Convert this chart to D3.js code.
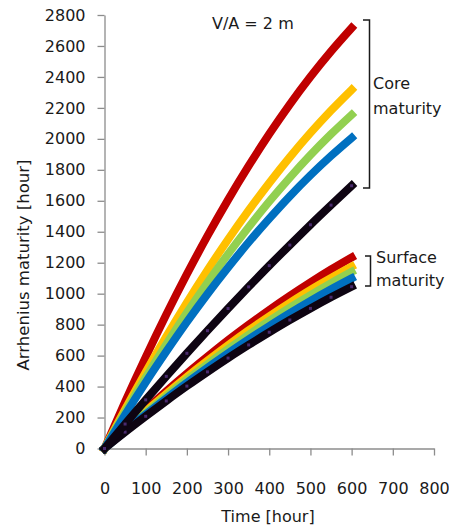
<!DOCTYPE html>
<html><head><meta charset="utf-8">
<script src="https://cdn.jsdelivr.net/npm/d3@7"></script>
<style>body{margin:0;background:#fff}svg{display:block}text{font-family:"DejaVu Sans",sans-serif;fill:#1a1a1a}</style>
</head><body>
<svg id="c" width="449" height="526"></svg>
<script>
const time = [0,50,100,150,200,250,300,350,400,450,500,550,600];
const coreRed    = [0,302,590,865,1126,1373,1606,1825,2031,2223,2401,2565,2716];
const coreOrange = [0,252,493,723,943,1152,1350,1538,1715,1882,2038,2183,2317];
const coreGreen  = [0,234,458,672,877,1071,1256,1430,1595,1750,1895,2030,2155];
const coreBlue   = [0,218,427,626,817,998,1169,1332,1485,1630,1765,1890,2006];
const coreBlack  = [0,158,314,466,615,761,904,1044,1181,1314,1445,1572,1697];
const surfRed    = [0,128,251,370,484,593,699,799,895,986,1073,1156,1234];
const surfOrange = [0,122,240,354,463,567,667,763,854,941,1024,1101,1175];
const surfGreen  = [0,117,230,339,444,545,642,735,824,910,991,1068,1141];
const surfBlue   = [0,112,220,324,425,522,615,705,791,874,953,1028,1099];
const surfBlack  = [0,106,208,307,403,495,584,669,751,830,905,977,1045];
const xTicks = [0,100,200,300,400,500,600,700,800];
const yTicks = [0,200,400,600,800,1000,1200,1400,1600,1800,2000,2200,2400,2600,2800];

const svg = d3.select("#c");
const x = d3.scaleLinear().domain([0,800]).range([104.5,434]);
const y = d3.scaleLinear().domain([0,2800]).range([448.5,15]);
const axisCol = "#8c8c8c";

const gx = svg.append("g").attr("transform","translate(0,448.5)")
  .call(d3.axisBottom(x).tickValues(xTicks).tickFormat(d3.format("d")).tickSize(7).tickPadding(27).tickSizeOuter(0));
const gy = svg.append("g").attr("transform","translate(104.5,0)")
  .call(d3.axisLeft(y).tickValues(yTicks).tickFormat(d3.format("d")).tickSize(7).tickPadding(12).tickSizeOuter(0));
[gx,gy].forEach(g=>{
  g.select(".domain").attr("stroke",axisCol).attr("stroke-width",1.3);
  g.selectAll(".tick line").attr("stroke",axisCol).attr("stroke-width",1.3);
  g.selectAll(".tick text").attr("font-size",16).attr("font-family","DejaVu Sans").attr("fill","#1a1a1a");
});
gx.selectAll(".tick text").attr("dy","0.71em");

const line = d3.line().x((d,i)=>x(time[i])).y(d=>y(d)).curve(d3.curveMonotoneX);
const series = [
  [surfRed,"#C00000"],[surfOrange,"#FFC000"],[surfGreen,"#92D050"],[surfBlue,"#0070C0"],[surfBlack,"#0e0412"],
  [coreRed,"#C00000"],[coreOrange,"#FFC000"],[coreGreen,"#92D050"],[coreBlue,"#0070C0"],[coreBlack,"#0e0412"]
];
series.forEach(([vals,col])=>{
  svg.append("path").attr("d",line(vals)).attr("fill","none").attr("stroke",col)
    .attr("stroke-width",8).attr("stroke-linecap","square");
  if(col==="#0e0412"){
    svg.append("g").selectAll("rect").data(vals).join("rect")
      .attr("x",(d,i)=>x(time[i])-1.5).attr("y",d=>y(d)-1.5)
      .attr("width",3).attr("height",3).attr("fill","#4a2a6e");
  }
});

svg.append("text").attr("x",212).attr("y",29).attr("font-size",16).text("V/A = 2 m");
const br = (x0,x1,y0,y1)=>svg.append("path")
  .attr("d",`M${x0},${y0}H${x1}V${y1}H${x0}`).attr("fill","none").attr("stroke","#1a1a1a").attr("stroke-width",1.5);
br(363,369.5,20,188);
br(365,370.5,256,286);
svg.append("text").attr("x",373).attr("y",89).attr("font-size",16).text("Core");
svg.append("text").attr("x",373).attr("y",114).attr("font-size",16).text("maturity");
svg.append("text").attr("x",376).attr("y",263).attr("font-size",16).text("Surface");
svg.append("text").attr("x",376).attr("y",286).attr("font-size",16).text("maturity");

svg.append("text").attr("x",268).attr("y",522).attr("text-anchor","middle").attr("font-size",16).text("Time [hour]");
svg.append("text").attr("transform","translate(29,265) rotate(-90)").attr("text-anchor","middle").attr("font-size",16.5).text("Arrhenius maturity [hour]");
</script>
</body></html>
